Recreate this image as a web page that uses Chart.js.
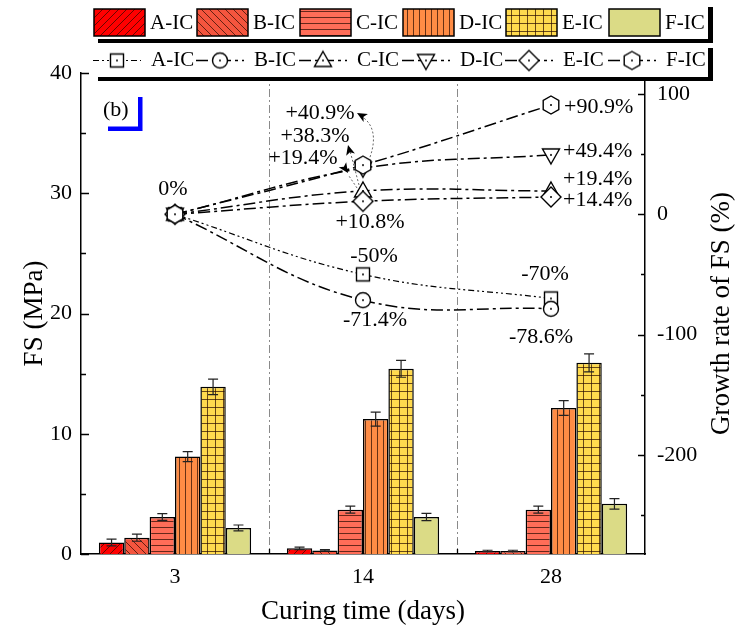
<!DOCTYPE html>
<html>
<head>
<meta charset="utf-8">
<script src="https://cdn.jsdelivr.net/npm/chart.js@4.4.1/dist/chart.umd.min.js"></script>
<style>
  body { margin: 0; background: #fff; }
</style>
</head>
<body>
<canvas id="myChart" width="737" height="637"></canvas>
<script>
const days = ['3', '14', '28'];
const names = ['A-IC', 'B-IC', 'C-IC', 'D-IC', 'E-IC', 'F-IC'];

// flexural strength (MPa)
const fsA = [0.95, 0.47, 0.25];
const fsB = [1.36, 0.3, 0.25];
const fsC = [3.08, 3.69, 3.69];
const fsD = [8.1, 11.22, 12.14];
const fsE = [13.9, 15.4, 15.9];
const fsF = [2.17, 3.08, 4.17];

// error bars (MPa)
const errA = [0.28, 0.1, 0.06];
const errB = [0.3, 0.06, 0.06];
const errC = [0.28, 0.29, 0.29];
const errD = [0.42, 0.58, 0.62];
const errE = [0.65, 0.7, 0.75];
const errF = [0.24, 0.3, 0.44];

// growth rate of FS (%)
const grA = [0, -50, -70];
const grB = [0, -71.4, -78.6];
const grC = [0, 19.4, 19.4];
const grD = [0, 38.3, 49.4];
const grE = [0, 10.8, 14.4];
const grF = [0, 40.9, 90.9];

const fsTicks = [0, 10, 20, 30, 40];
const rateTicks = [-200, -100, 0, 100];

const fsSets = [fsA, fsB, fsC, fsD, fsE, fsF];
const errSets = [errA, errB, errC, errD, errE, errF];
const rateSets = [grA, grB, grC, grD, grE, grF];

const barColors = ['#ff0000', '#f4553e', '#ff6d58', '#ff8c45', '#ffda4e', '#dbdb86'];
const hatchKinds = ['/', '\\', '-', '|', '+', ''];
const shapes = ['square', 'circle', 'tri', 'itri', 'diamond', 'hex'];
const dashes = [[6, 3, 2, 3, 2, 3], [12, 4, 3, 4], [12, 4, 3, 4], [12, 4, 3, 4], [12, 4, 3, 4], [12, 4, 3, 4]];

const FONT = '"Liberation Serif", "Times New Roman", serif';

const ctx = document.getElementById('myChart');
const c2d = ctx.getContext('2d');

function hatch(bg, kind) {
  const s = kind === '-' || kind === '|' ? 6 : 8;
  const c = document.createElement('canvas');
  c.width = c.height = s;
  const g = c.getContext('2d');
  g.fillStyle = bg;
  g.fillRect(0, 0, s, s);
  g.strokeStyle = 'rgba(40,10,0,0.7)';
  g.lineWidth = 1;
  g.beginPath();
  if (kind === '/') {
    g.moveTo(0, s); g.lineTo(s, 0);
    g.moveTo(-2, 2); g.lineTo(2, -2);
    g.moveTo(s - 2, s + 2); g.lineTo(s + 2, s - 2);
  } else if (kind === '\\') {
    g.moveTo(0, 0); g.lineTo(s, s);
    g.moveTo(s - 2, -2); g.lineTo(s + 2, 2);
    g.moveTo(-2, s - 2); g.lineTo(2, s + 2);
  } else if (kind === '-') {
    g.moveTo(0, s - 0.5); g.lineTo(s, s - 0.5);
  } else if (kind === '|') {
    g.moveTo(s - 0.5, 0); g.lineTo(s - 0.5, s);
  } else if (kind === '+') {
    g.moveTo(0, s - 0.5); g.lineTo(s, s - 0.5);
    g.moveTo(s - 0.5, 0); g.lineTo(s - 0.5, s);
  }
  g.stroke();
  return c2d.createPattern(c, 'repeat');
}

function makeMarker(shape) {
  const c = document.createElement('canvas');
  c.width = c.height = 24;
  const g = c.getContext('2d');
  g.translate(12, 12);
  g.beginPath();
  if (shape === 'square') g.rect(-6.5, -6.5, 13, 13);
  else if (shape === 'circle') g.arc(0, 0, 7.5, 0, Math.PI * 2);
  else if (shape === 'tri') { g.moveTo(0, -9); g.lineTo(8.5, 6); g.lineTo(-8.5, 6); g.closePath(); }
  else if (shape === 'itri') { g.moveTo(0, 9); g.lineTo(8.5, -6); g.lineTo(-8.5, -6); g.closePath(); }
  else if (shape === 'diamond') { g.moveTo(0, -10); g.lineTo(10, 0); g.lineTo(0, 10); g.lineTo(-10, 0); g.closePath(); }
  else {
    for (let k = 0; k < 6; k++) {
      const a = -Math.PI / 2 + k * Math.PI / 3;
      if (k === 0) g.moveTo(9 * Math.cos(a), 9 * Math.sin(a));
      else g.lineTo(9 * Math.cos(a), 9 * Math.sin(a));
    }
    g.closePath();
  }
  g.fillStyle = '#fff';
  g.fill();
  g.lineWidth = 1.4;
  g.strokeStyle = '#000';
  g.stroke();
  g.beginPath();
  g.arc(0, 0, 1, 0, Math.PI * 2);
  g.fillStyle = '#000';
  g.fill();
  return c;
}

const patterns = barColors.map((col, k) => hatch(col, hatchKinds[k]));
const markers = shapes.map(makeMarker);

const datasets = [];
names.forEach((n, k) => {
  datasets.push({
    type: 'bar',
    label: n,
    data: fsSets[k],
    yAxisID: 'y',
    backgroundColor: patterns[k],
    borderColor: '#000',
    borderWidth: 1.5,
    categoryPercentage: 0.81,
    barPercentage: 1,
    order: 10
  });
});
names.forEach((n, k) => {
  datasets.push({
    type: 'line',
    label: n,
    data: rateSets[k],
    yAxisID: 'y1',
    borderColor: '#000',
    borderWidth: k === 0 ? 1.2 : 1.5,
    borderDash: dashes[k],
    tension: 0.4,
    fill: false,
    pointStyle: markers[k],
    pointRadius: 9,
    order: 6 - k
  });
});

function fmt(v) {
  if (v === 0) return '0%';
  return (v > 0 ? '+' : '') + v + '%';
}

// label placement next to the growth-rate points
const notes = [
  { set: 5, i: 0, dx: -2, dy: -25, align: 'center' },
  { set: 5, i: 1, dx: -43, dy: -52, align: 'center' },
  { set: 3, i: 1, dx: -48, dy: -32, align: 'center' },
  { set: 2, i: 1, dx: -60, dy: -33, align: 'center' },
  { set: 4, i: 1, dx: 7, dy: 21, align: 'center' },
  { set: 0, i: 1, dx: 11, dy: -18, align: 'center' },
  { set: 1, i: 1, dx: 12, dy: 20, align: 'center' },
  { set: 5, i: 2, dx: 13, dy: 2, align: 'left' },
  { set: 3, i: 2, dx: 12, dy: -4, align: 'left' },
  { set: 2, i: 2, dx: 12, dy: -12, align: 'left' },
  { set: 4, i: 2, dx: 12, dy: 3, align: 'left' },
  { set: 0, i: 2, dx: -6, dy: -24, align: 'center' },
  { set: 1, i: 2, dx: -10, dy: 28, align: 'center' }
];

function arrowHead(g, x, y, ang, size) {
  g.save();
  g.translate(x, y);
  g.rotate(ang);
  g.setLineDash([]);
  g.beginPath();
  g.moveTo(0, 0);
  g.lineTo(-size, -size * 0.45);
  g.lineTo(-size * 0.75, 0);
  g.lineTo(-size, size * 0.45);
  g.closePath();
  g.fillStyle = '#000';
  g.fill();
  g.restore();
}

const decor = {
  id: 'decor',
  beforeDatasetsDraw(chart) {
    const { ctx: g, chartArea: a, scales: { x } } = chart;
    g.save();
    g.strokeStyle = '#8a8a8a';
    g.lineWidth = 1;
    g.setLineDash([8, 3, 2, 3]);
    for (let i = 0; i < days.length - 1; i++) {
      const px = Math.round((x.getPixelForValue(i) + x.getPixelForValue(i + 1)) / 2) + 0.5;
      g.beginPath();
      g.moveTo(px, a.top);
      g.lineTo(px, a.bottom);
      g.stroke();
    }
    g.restore();
  },
  afterDatasetsDraw(chart) {
    const g = chart.ctx;
    const y = chart.scales.y;
    g.save();
    g.strokeStyle = '#222';
    g.lineWidth = 1.2;
    fsSets.forEach((vals, k) => {
      const meta = chart.getDatasetMeta(k);
      meta.data.forEach((bar, i) => {
        const t = y.getPixelForValue(vals[i] + errSets[k][i]);
        const b = y.getPixelForValue(vals[i] - errSets[k][i]);
        g.beginPath();
        g.moveTo(bar.x, t); g.lineTo(bar.x, b);
        g.moveTo(bar.x - 5, t); g.lineTo(bar.x + 5, t);
        g.moveTo(bar.x - 5, b); g.lineTo(bar.x + 5, b);
        g.stroke();
      });
    });
    g.restore();
  },
  afterDraw(chart) {
    const { ctx: g, chartArea: a, scales: { x, y, y1 } } = chart;
    g.save();
    g.strokeStyle = '#000';
    g.lineWidth = 1.3;
    g.setLineDash([]);
    // inward ticks
    g.beginPath();
    for (let v = 0; v <= 40; v += 5) {
      const py = Math.round(y.getPixelForValue(v)) + 0.5;
      g.moveTo(a.left, py); g.lineTo(a.left + (v % 10 === 0 ? 8 : 5), py);
    }
    for (let v = -250; v <= 100; v += 50) {
      const py = Math.round(y1.getPixelForValue(v)) + 0.5;
      g.moveTo(a.right, py); g.lineTo(a.right - (v % 100 === 0 ? 7 : 4), py);
    }
    for (let i = 0; i < days.length - 1; i++) {
      const px = Math.round((x.getPixelForValue(i) + x.getPixelForValue(i + 1)) / 2) + 0.5;
      g.moveTo(px, a.bottom); g.lineTo(px, a.bottom - 5);
    }
    g.stroke();

    // axis titles
    g.fillStyle = '#000';
    g.font = '27px ' + FONT;
    g.textAlign = 'center';
    g.textBaseline = 'middle';
    const cy = (a.top + a.bottom) / 2;
    g.fillText('Curing time (days)', (a.left + a.right) / 2, 612);
    g.save();
    g.translate(35, cy);
    g.rotate(-Math.PI / 2);
    g.fillText('FS (MPa)', 0, 0);
    g.restore();
    g.save();
    g.translate(722, cy);
    g.rotate(-Math.PI / 2);
    g.fillText('Growth rate of FS (%)', 0, 0);
    g.restore();

    // point labels
    g.font = '22px ' + FONT;
    notes.forEach(n => {
      const p = chart.getDatasetMeta(6 + n.set).data[n.i];
      g.textAlign = n.align;
      g.fillText(fmt(rateSets[n.set][n.i]), p.x + n.dx, p.y + n.dy);
    });

    // arrows at 14 days
    const pF = chart.getDatasetMeta(11).data[1];
    const pC = chart.getDatasetMeta(8).data[1];
    g.strokeStyle = '#666';
    g.lineWidth = 1;
    g.setLineDash([2, 2]);
    g.beginPath();
    g.moveTo(pF.x + 7, pF.y - 8);
    g.bezierCurveTo(pF.x + 14, pF.y - 28, pF.x + 10, pF.y - 42, pF.x - 2, pF.y - 49);
    g.stroke();
    arrowHead(g, pF.x - 6, pF.y - 52, Math.atan2(-5, -9), 10);
    g.beginPath();
    g.moveTo(pC.x - 4, pC.y - 6);
    g.lineTo(pC.x - 13, pC.y - 40);
    g.stroke();
    arrowHead(g, pC.x - 15, pC.y - 46, Math.atan2(-34, -9), 10);
    g.beginPath();
    g.moveTo(pC.x - 6, pC.y - 3);
    g.lineTo(pC.x - 14, pC.y - 15);
    g.stroke();
    arrowHead(g, pC.x - 15, pC.y - 18, Math.atan2(-12, -8) + Math.PI, 10);

    // panel tag
    g.setLineDash([]);
    g.fillStyle = '#000';
    g.textAlign = 'left';
    g.font = '22px ' + FONT;
    g.fillText('(b)', 103, 110);
    g.fillStyle = '#0000ff';
    g.fillRect(138, 97, 4.5, 34);
    g.fillRect(108, 126.5, 34, 4.5);

    // legend boxes
    const lx = 93, rx = 708;
    const rows = [{ top: 2, h: 37 }, { top: 43, h: 34 }];
    rows.forEach(r => {
      g.fillStyle = '#fff';
      g.fillRect(lx, r.top, rx - lx, r.h);
      g.fillStyle = '#000';
      g.fillRect(lx + 5, r.top + r.h, rx - lx, 4);
      g.fillRect(rx, r.top + 5, 5, r.h - 1);
    });
    g.font = '21px ' + FONT;
    g.textBaseline = 'middle';
    names.forEach((n, k) => {
      const px = 94 + k * 103;
      g.fillStyle = patterns[k];
      g.fillRect(px, 9, 51, 27);
      g.strokeStyle = '#000';
      g.lineWidth = 1.5;
      g.setLineDash([]);
      g.strokeRect(px, 9, 51, 27);
      g.fillStyle = '#000';
      g.fillText(n, px + 56, 23);

      const mx = 117 + k * 103, my = 60.5;
      g.lineWidth = k === 0 ? 1.2 : 1.5;
      g.setLineDash(dashes[k]);
      g.beginPath();
      g.moveTo(mx - 24, my); g.lineTo(mx + 24, my);
      g.stroke();
      g.setLineDash([]);
      g.drawImage(markers[k], mx - 12, my - 12);
      g.fillText(n, mx + 34, my);
    });
    g.restore();
  }
};

new Chart(ctx, {
  type: 'bar',
  data: { labels: days, datasets: datasets },
  options: {
    responsive: false,
    animation: false,
    layout: { padding: { top: 73, left: 0, right: 0, bottom: 0 } },
    plugins: {
      legend: { display: false },
      tooltip: { enabled: false }
    },
    scales: {
      x: {
        type: 'category',
        offset: true,
        grid: { display: false, drawTicks: false },
        border: { display: true, color: '#000', width: 1.5 },
        ticks: { color: '#000', font: { family: FONT, size: 22 }, padding: 10 },
        afterFit: s => { s.height = 83; }
      },
      y: {
        position: 'left',
        min: 0,
        max: 40,
        grid: { display: false, drawTicks: false },
        border: { display: true, color: '#000', width: 1.5 },
        ticks: { color: '#000', font: { family: FONT, size: 22 }, padding: 9 },
        afterBuildTicks: s => { s.ticks = fsTicks.map(v => ({ value: v })); },
        afterFit: s => { s.width = 81; }
      },
      y1: {
        position: 'right',
        min: -282.5,
        max: 117.5,
        grid: { display: false, drawTicks: false },
        border: { display: true, color: '#000', width: 1.5 },
        ticks: { color: '#000', font: { family: FONT, size: 22 }, padding: 12 },
        afterBuildTicks: s => { s.ticks = rateTicks.map(v => ({ value: v })); },
        afterFit: s => { s.width = 92; }
      }
    }
  },
  plugins: [decor]
});
</script>
</body>
</html>
